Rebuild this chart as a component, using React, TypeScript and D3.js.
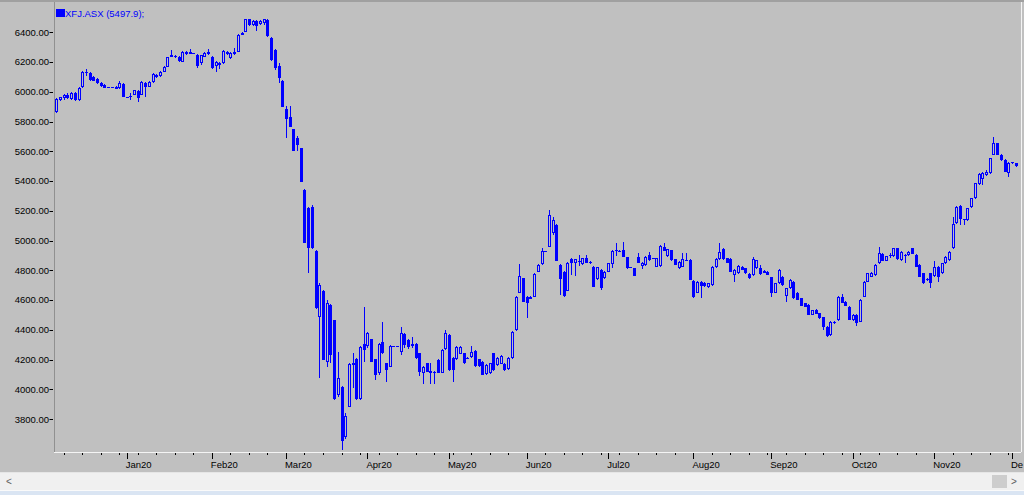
import React, { useEffect, useRef } from 'react';
import * as d3 from 'd3';

// open, high, low, close
type Bar = [number, number, number, number];

const dec19: Bar[] = [
  [5867, 5955, 5858, 5950], [5948, 5968, 5940, 5962], [5955, 5985, 5948, 5978], [5980, 5992, 5950, 5958],
  [5950, 6000, 5945, 5995], [5992, 5998, 5935, 5942], [5945, 6030, 5940, 6022], [6030, 6142, 6025, 6135],
  [6132, 6150, 6105, 6125], [6128, 6132, 6075, 6082], [6100, 6108, 6070, 6075], [6085, 6092, 6055, 6060],
  [6060, 6065, 6035, 6040], [6045, 6050, 6022, 6028], [6030, 6030, 6030, 6030], [6030, 6030, 6030, 6030],
  [6030, 6036, 6026, 6032], [6026, 6070, 6020, 6057], [6052, 6058, 5962, 5967],
];
const jan20: Bar[] = [
  [5967, 5967, 5967, 5967], [5970, 5990, 5945, 5965], [5980, 6015, 5975, 6012], [6005, 6012, 5930, 5958],
  [5980, 6072, 5975, 6068], [6062, 6066, 5967, 6030], [6035, 6072, 6030, 6068], [6068, 6124, 6062, 6120],
  [6100, 6120, 6094, 6114], [6108, 6140, 6100, 6135], [6135, 6172, 6130, 6169], [6169, 6236, 6165, 6232],
  [6236, 6282, 6232, 6246], [6240, 6244, 6228, 6232], [6236, 6240, 6200, 6210], [6203, 6274, 6198, 6270],
  [6268, 6272, 6250, 6255], [6258, 6290, 6255, 6264], [6262, 6262, 6262, 6262], [6250, 6254, 6160, 6170],
  [6190, 6250, 6180, 6247], [6236, 6266, 6232, 6262], [6265, 6290, 6250, 6255],
];
const feb20: Bar[] = [
  [6236, 6240, 6150, 6158], [6170, 6208, 6135, 6203], [6195, 6200, 6150, 6180], [6190, 6280, 6185, 6276],
  [6270, 6276, 6250, 6255], [6225, 6266, 6220, 6262], [6255, 6292, 6250, 6270], [6270, 6386, 6266, 6382],
  [6382, 6400, 6378, 6395], [6404, 6490, 6400, 6487], [6487, 6492, 6445, 6450], [6450, 6482, 6445, 6478],
  [6478, 6482, 6410, 6445], [6455, 6482, 6450, 6478], [6465, 6492, 6450, 6487], [6483, 6488, 6370, 6375],
  [6360, 6365, 6210, 6214], [6281, 6285, 6147, 6158], [6174, 6192, 6061, 6091], [6075, 6080, 5895, 5900],
];
const mar20: Bar[] = [
  [5883, 5905, 5688, 5815], [5833, 5905, 5760, 5766], [5748, 5752, 5600, 5605], [5690, 5700, 5605, 5640],
  [5621, 5625, 5392, 5397], [5341, 5345, 4985, 4987], [5218, 5225, 4781, 4949], [5225, 5240, 4945, 4949],
  [4933, 4938, 4540, 4546], [4489, 4718, 4076, 4700], [4662, 4668, 4195, 4199], [4187, 4600, 4150, 4579],
  [4568, 4575, 4180, 4232], [4467, 4470, 3930, 3934], [3963, 4254, 3950, 4076], [4019, 4025, 3594, 3656],
  [3680, 3840, 3670, 3820], [3885, 4175, 3880, 4170], [4176, 4248, 4008, 4180], [4205, 4210, 3930, 3934],
  [3934, 4295, 3930, 4288], [4306, 4553, 4187, 4266],
];
const apr20: Bar[] = [
  [4290, 4385, 4280, 4378], [4338, 4342, 4185, 4187], [4203, 4208, 4064, 4098], [4109, 4310, 4100, 4304],
  [4322, 4456, 4240, 4243], [4176, 4180, 4053, 4131], [4153, 4300, 4150, 4294], [4294, 4294, 4294, 4294],
  [4294, 4294, 4294, 4294], [4250, 4420, 4230, 4378], [4370, 4380, 4280, 4300], [4333, 4340, 4270, 4288],
  [4290, 4350, 4280, 4305], [4306, 4310, 4205, 4210], [4243, 4248, 4090, 4120], [4109, 4160, 4040, 4154],
  [4176, 4180, 4115, 4120], [4120, 4176, 4040, 4122], [4120, 4125, 4040, 4118], [4198, 4205, 4108, 4113],
  [4113, 4270, 4108, 4265], [4270, 4400, 4265, 4382],
];
const may20: Bar[] = [
  [4366, 4370, 4125, 4131], [4210, 4215, 4053, 4131], [4203, 4292, 4198, 4288], [4239, 4290, 4235, 4284],
  [4243, 4248, 4170, 4176], [4212, 4215, 4205, 4208], [4217, 4295, 4212, 4255], [4259, 4264, 4150, 4158],
  [4203, 4208, 4150, 4158], [4187, 4190, 4095, 4098], [4102, 4170, 4098, 4165], [4109, 4180, 4105, 4176],
  [4243, 4248, 4125, 4131], [4165, 4215, 4160, 4210], [4172, 4230, 4168, 4225], [4172, 4176, 4125, 4131],
  [4136, 4215, 4130, 4210], [4210, 4392, 4205, 4389], [4400, 4625, 4395, 4620], [4651, 4843, 4645, 4763],
  [4747, 4752, 4585, 4590],
];
const jun20: Bar[] = [
  [4620, 4625, 4478, 4584], [4612, 4625, 4605, 4618], [4624, 4780, 4620, 4776], [4792, 4840, 4788, 4837],
  [4843, 4948, 4838, 4931], [4931, 4931, 4931, 4931], [4960, 5206, 4955, 5172], [5049, 5160, 5040, 5139],
  [5105, 5110, 4862, 4866], [4837, 4842, 4635, 4740], [4792, 4796, 4624, 4628], [4664, 4855, 4660, 4848],
  [4875, 4880, 4770, 4848], [4848, 4878, 4762, 4875], [4862, 4902, 4828, 4858], [4840, 4885, 4835, 4880],
  [4882, 4904, 4848, 4852], [4855, 4860, 4845, 4848], [4825, 4830, 4688, 4691], [4740, 4822, 4735, 4820],
  [4803, 4808, 4669, 4680], [4747, 4795, 4742, 4792],
];
const jul20: Bar[] = [
  [4792, 4852, 4788, 4848], [4843, 4940, 4814, 4933], [4935, 4985, 4900, 4935], [4932, 4938, 4925, 4930],
  [4935, 4990, 4888, 4893], [4888, 4892, 4810, 4814], [4822, 4826, 4815, 4820], [4814, 4818, 4760, 4763],
  [4893, 4915, 4850, 4853], [4830, 4858, 4807, 4853], [4837, 4897, 4832, 4893], [4904, 4926, 4866, 4870],
  [4880, 4884, 4875, 4880], [4825, 4885, 4820, 4881], [4830, 4968, 4825, 4964], [4955, 4987, 4930, 4933],
  [4897, 4946, 4892, 4942], [4937, 4940, 4866, 4870], [4875, 4878, 4833, 4837], [4814, 4862, 4810, 4859],
  [4825, 4915, 4820, 4875], [4870, 4915, 4865, 4870], [4870, 4875, 4733, 4736],
];
const aug20: Bar[] = [
  [4731, 4735, 4615, 4620], [4651, 4728, 4646, 4725], [4725, 4730, 4613, 4696], [4718, 4722, 4690, 4696],
  [4690, 4718, 4685, 4714], [4702, 4828, 4698, 4825], [4821, 4880, 4816, 4875], [4875, 4987, 4870, 4926],
  [4942, 4948, 4870, 4875], [4881, 4885, 4848, 4853], [4875, 4880, 4788, 4792], [4770, 4806, 4725, 4803],
  [4781, 4834, 4776, 4830], [4825, 4830, 4800, 4803], [4814, 4818, 4778, 4781], [4776, 4780, 4744, 4747],
  [4770, 4893, 4765, 4875], [4814, 4872, 4810, 4870], [4814, 4836, 4772, 4776], [4795, 4800, 4790, 4796],
  [4792, 4796, 4766, 4770],
];
const sep20: Bar[] = [
  [4754, 4758, 4620, 4646], [4651, 4718, 4646, 4714], [4714, 4806, 4710, 4803], [4758, 4762, 4698, 4702],
  [4628, 4684, 4590, 4680], [4680, 4740, 4676, 4736], [4725, 4730, 4609, 4613], [4651, 4655, 4598, 4602],
  [4613, 4617, 4558, 4561], [4579, 4582, 4554, 4557], [4568, 4572, 4498, 4501], [4501, 4536, 4497, 4534],
  [4534, 4538, 4504, 4507], [4512, 4515, 4475, 4478], [4485, 4488, 4400, 4418], [4422, 4426, 4350, 4360],
  [4366, 4460, 4362, 4456], [4452, 4458, 4440, 4450], [4467, 4628, 4462, 4624], [4620, 4640, 4580, 4584],
  [4590, 4594, 4558, 4561], [4557, 4560, 4464, 4467],
];
const oct20: Bar[] = [
  [4467, 4504, 4463, 4501], [4501, 4505, 4428, 4445], [4456, 4606, 4452, 4602], [4624, 4728, 4620, 4725],
  [4725, 4784, 4720, 4781], [4758, 4788, 4754, 4785], [4770, 4840, 4765, 4837], [4848, 4960, 4843, 4915],
  [4911, 4915, 4862, 4866], [4866, 4900, 4862, 4897], [4905, 4915, 4885, 4903], [4897, 4952, 4893, 4949],
  [4949, 4953, 4870, 4875], [4870, 4930, 4866, 4926], [4905, 4910, 4850, 4903], [4904, 4930, 4900, 4926],
  [4949, 4953, 4907, 4911], [4904, 4908, 4822, 4826], [4837, 4841, 4754, 4758], [4781, 4785, 4710, 4714],
  [4740, 4748, 4732, 4740], [4781, 4785, 4680, 4714],
];
const nov20: Bar[] = [
  [4763, 4860, 4758, 4826], [4826, 4830, 4725, 4758], [4781, 4852, 4776, 4848], [4848, 4897, 4844, 4893],
  [4870, 4930, 4866, 4926], [4949, 5162, 4944, 5112], [5117, 5232, 5112, 5228], [5233, 5238, 5105, 5144],
  [5144, 5148, 5105, 5144], [5139, 5221, 5135, 5217], [5224, 5288, 5220, 5284], [5285, 5388, 5280, 5385],
  [5381, 5452, 5376, 5448], [5412, 5461, 5375, 5457], [5441, 5475, 5437, 5464], [5453, 5556, 5448, 5553],
  [5576, 5694, 5572, 5659], [5654, 5658, 5572, 5576], [5576, 5580, 5538, 5542], [5542, 5546, 5460, 5464],
  [5457, 5527, 5430, 5524],
];
const dec20: Bar[] = [
  [5526, 5530, 5515, 5520], [5520, 5524, 5495, 5498],
];

const firstDay = new Date(2019, 11, 5);
const priceTicks = [3800, 4000, 4200, 4400, 4600, 4800, 5000, 5200, 5400, 5600, 5800, 6000, 6200, 6400];
const symbol = 'XFJ.ASX';
const lastClose = '5497.9';

const BLUE = '#0000ff';
const FONT = '"Liberation Sans", Arial, sans-serif';

function tradingDays(start: Date, count: number): Date[] {
  const out: Date[] = [];
  let d = new Date(start);
  while (out.length < count) {
    const wd = d.getDay();
    if (wd !== 0 && wd !== 6) out.push(d);
    d = d3.timeDay.offset(d, 1);
  }
  return out;
}

const App: React.FC = () => {
  const svgRef = useRef<SVGSVGElement>(null);
  const width = 1024;
  const height = 495;

  useEffect(() => {
    if (!svgRef.current) return;
    const svg = d3.select(svgRef.current);
    svg.selectAll('*').remove();

    const bars = [dec19, jan20, feb20, mar20, apr20, may20, jun20, jul20, aug20, sep20, oct20, nov20, dec20].flat();
    const days = tradingDays(firstDay, bars.length);

    const plot = { left: 54, top: 2, right: 1021, bottom: 452 };

    const x = d3.scaleLinear()
      .domain([0, bars.length - 1])
      .range([56.3, 56.3 + (bars.length - 1) * 3.704]);
    const y = d3.scaleLinear()
      .domain([3580, 6603])
      .range([plot.bottom, plot.top]);

    // background
    svg.append('rect').attr('width', width).attr('height', height).attr('fill', '#c0c0c0');
    svg.append('rect').attr('x', 0).attr('y', 0).attr('width', width).attr('height', 2).attr('fill', '#a0a0a0');

    // frame
    svg.append('line')
      .attr('x1', plot.left + 0.5).attr('x2', plot.left + 0.5)
      .attr('y1', plot.top).attr('y2', plot.bottom)
      .attr('stroke', '#909090');
    svg.append('line')
      .attr('x1', plot.left).attr('x2', plot.right)
      .attr('y1', plot.bottom + 0.5).attr('y2', plot.bottom + 0.5)
      .attr('stroke', '#f4f4f4');
    svg.append('line')
      .attr('x1', plot.right + 0.5).attr('x2', plot.right + 0.5)
      .attr('y1', plot.top).attr('y2', plot.bottom)
      .attr('stroke', '#f4f4f4');

    // y axis labels
    const yAxis = svg.append('g');
    priceTicks.forEach(t => {
      yAxis.append('text')
        .attr('x', 49).attr('y', y(t))
        .attr('dy', '0.35em')
        .attr('text-anchor', 'end')
        .attr('font-family', FONT).attr('font-size', 9.5)
        .attr('fill', '#000')
        .text(d3.format('.2f')(t));
      yAxis.append('line')
        .attr('x1', 49.5).attr('x2', 53)
        .attr('y1', Math.round(y(t)) + 0.5).attr('y2', Math.round(y(t)) + 0.5)
        .attr('stroke', '#000');
    });

    // x axis: weekly minor ticks, monthly major ticks with labels
    const xAxis = svg.append('g');
    const fmt = d3.timeFormat('%b%y');
    days.forEach((d, i) => {
      const newMonth = i > 0 && d.getMonth() !== days[i - 1].getMonth();
      const monday = d.getDay() === 1;
      if (!newMonth && !monday) return;
      const px = Math.round(x(i)) + 0.5;
      xAxis.append('line')
        .attr('x1', px).attr('x2', px)
        .attr('y1', plot.bottom + 1).attr('y2', plot.bottom + (newMonth ? 7 : 3))
        .attr('stroke', '#000');
      if (newMonth) {
        const label = xAxis.append('text')
          .attr('x', x(i) - 1).attr('y', plot.bottom + 16)
          .attr('font-family', FONT).attr('font-size', 9.5)
          .attr('fill', '#000')
          .text(fmt(d));
        // the chart window cuts the last label at its right border
        let txt = fmt(d);
        const node = label.node() as SVGTextElement;
        while (txt.length > 1 && x(i) - 1 + node.getComputedTextLength() > width - 0.5) {
          txt = txt.slice(0, -1);
          label.text(txt);
        }
      }
    });

    // candles
    const g = svg.append('g');
    bars.forEach(([o, h, l, c], i) => {
      const cx = Math.round(x(i));
      g.append('line')
        .attr('x1', cx + 0.5).attr('x2', cx + 0.5)
        .attr('y1', Math.round(y(h))).attr('y2', Math.max(Math.round(y(l)), Math.round(y(h)) + 1))
        .attr('stroke', BLUE).attr('stroke-width', 1);
      const top = Math.round(y(Math.max(o, c)));
      const bot = Math.round(y(Math.min(o, c)));
      if (c > o) {
        g.append('rect')
          .attr('x', cx - 0.5).attr('y', top + 0.5)
          .attr('width', 2).attr('height', Math.max(bot - top - 1, 1))
          .attr('fill', '#c0c0c0').attr('stroke', BLUE).attr('stroke-width', 1);
      } else {
        g.append('rect')
          .attr('x', cx - 1).attr('y', top)
          .attr('width', 3).attr('height', Math.max(bot - top, 1))
          .attr('fill', BLUE);
      }
    });

    // legend
    svg.append('rect').attr('x', 56).attr('y', 9).attr('width', 9).attr('height', 8).attr('fill', BLUE);
    svg.append('text')
      .attr('x', 65).attr('y', 17)
      .attr('font-family', FONT).attr('font-size', 9.5)
      .attr('fill', BLUE)
      .text(`${symbol} (${lastClose});`);

    // scrollbar strip
    svg.append('rect').attr('x', 0).attr('y', 472).attr('width', width).attr('height', 1).attr('fill', '#e6e6e6');
    svg.append('rect').attr('x', 0).attr('y', 473).attr('width', width).attr('height', 17).attr('fill', '#f0f0f0');
    svg.append('rect').attr('x', 992).attr('y', 475).attr('width', 15).attr('height', 13).attr('fill', '#cdcdcd');
    svg.append('text').attr('x', 6).attr('y', 485).attr('font-family', FONT).attr('font-size', 10).attr('fill', '#606060').text('<');
    svg.append('text').attr('x', 1011).attr('y', 485).attr('font-family', FONT).attr('font-size', 10).attr('fill', '#606060').text('>');
    svg.append('rect').attr('x', 0).attr('y', 490).attr('width', width).attr('height', 1).attr('fill', '#fafafa');
    svg.append('rect').attr('x', 0).attr('y', 491).attr('width', width).attr('height', 4).attr('fill', '#dae5f3');
  }, []);

  return (
    <svg
      ref={svgRef}
      width={width}
      height={height}
      style={{ position: 'absolute', left: 0, top: 0, display: 'block' }}
    />
  );
};

export default App;
